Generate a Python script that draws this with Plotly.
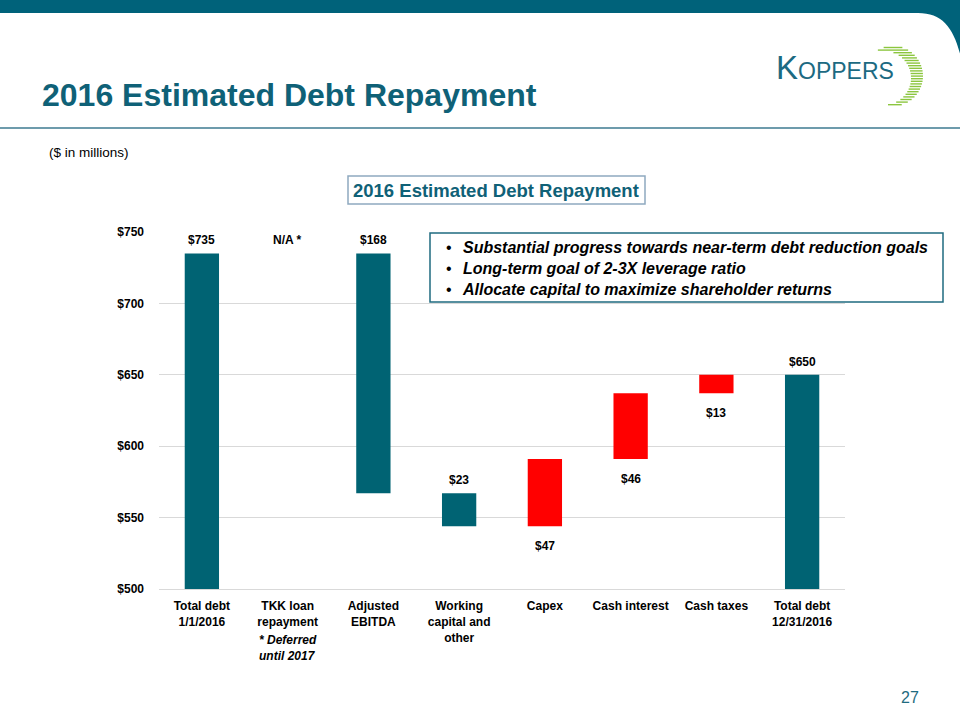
import numpy as np
import plotly.graph_objects as go

# ---------------- data ----------------
categories = ["Total debt<br>1/1/2016", "TKK loan<br>repayment", "Adjusted<br>EBITDA",
              "Working<br>capital and<br>other", "Capex", "Cash interest", "Cash taxes",
              "Total debt<br>12/31/2016"]
measures = ["absolute", "relative", "relative", "relative", "relative", "relative", "relative", "total"]
changes = [735, 0, -168, -23, 47, 46, 13, 650]
value_labels = ["$735", "N/A *", "$168", "$23", "$47", "$46", "$13", "$650"]
label_side = ["above", "above", "above", "above", "below", "below", "below", "above"]
y_ticks = [500, 550, 600, 650, 700, 750]
y_tick_labels = ["$500", "$550", "$600", "$650", "$700", "$750"]
bullets = ["Substantial progress towards near-term debt reduction goals",
           "Long-term goal of 2-3X leverage ratio",
           "Allocate capital to maximize shareholder returns"]

# ---------------- styles ----------------
TEAL = "#006373"
RED = "#FF0000"
TITLE_C = "#0F6177"
FONT = "Liberation Sans"
W, H = 960, 720
ML, MR, MT, MB = 159, 115, 232, 131
PW, PH = W - ML - MR, H - MT - MB


def X(px):
    return (px - ML) / PW


def Y(py):
    return (H - MB - py) / PH


fig = go.Figure()
fig.add_trace(go.Waterfall(
    x=categories, y=changes, measure=measures, width=0.4,
    decreasing=dict(marker=dict(color=TEAL)),
    increasing=dict(marker=dict(color=RED)),
    totals=dict(marker=dict(color=TEAL)),
    connector=dict(visible=False), textinfo="none", hoverinfo="skip",
))

# value labels positioned from the running totals
annotations = []
running = 0
for cat, m, v, lab, side in zip(categories, measures, changes, value_labels, label_side):
    if m == "absolute":
        start, end = 0, v
        running = v
    elif m == "relative":
        start, end = running, running + v
        running = end
    else:
        start, end = 0, running
    top, bot = max(start, end), min(start, end)
    if side == "above":
        annotations.append(dict(x=cat, y=top, xref="x", yref="y", text="<b>%s</b>" % lab,
                                showarrow=False, yanchor="middle", yshift=13,
                                font=dict(family=FONT, size=12, color="black")))
    else:
        annotations.append(dict(x=cat, y=bot, xref="x", yref="y", text="<b>%s</b>" % lab,
                                showarrow=False, yanchor="middle", yshift=-20,
                                font=dict(family=FONT, size=12, color="black")))

# footnote under TKK
annotations.append(dict(x=categories[1], y=Y(648), xref="x", yref="paper",
                        text="<b><i>* Deferred<br>until 2017</i></b>", showarrow=False,
                        align="left", xanchor="center", yanchor="middle",
                        font=dict(family=FONT, size=12, color="black")))

# slide title
annotations.append(dict(x=X(40), y=Y(95), xref="paper", yref="paper", xanchor="left",
                        yanchor="middle", text="<b>2016 Estimated Debt Repayment</b>",
                        showarrow=False, font=dict(family=FONT, size=32, color=TITLE_C)))
# units
annotations.append(dict(x=X(47), y=Y(153), xref="paper", yref="paper", xanchor="left",
                        yanchor="middle", text="($ in millions)", showarrow=False,
                        font=dict(family=FONT, size=13.5, color="black")))
# chart title box text
annotations.append(dict(x=X(496), y=Y(190), xref="paper", yref="paper", xanchor="center",
                        yanchor="middle", text="<b>2016 Estimated Debt Repayment</b>",
                        showarrow=False, font=dict(family=FONT, size=18.5, color=TITLE_C)))
# bullet box
annotations.append(dict(x=X(444), y=Y(268), xref="paper", yref="paper", xanchor="left",
                        yanchor="middle", text="<br>".join(["•"] * len(bullets)),
                        showarrow=False, align="left",
                        font=dict(family=FONT, size=16, color="black")))
annotations.append(dict(x=X(460), y=Y(268), xref="paper", yref="paper", xanchor="left",
                        yanchor="middle",
                        text="<br>".join("<b><i>%s</i></b>" % b for b in bullets),
                        showarrow=False, align="left",
                        font=dict(family=FONT, size=16, color="black")))
# page number
annotations.append(dict(x=X(910), y=Y(697), xref="paper", yref="paper", xanchor="center",
                        yanchor="middle", text="27", showarrow=False,
                        font=dict(family=FONT, size=16, color="#1F6B80")))
# logo text
annotations.append(dict(x=X(774), y=Y(88), xref="paper", yref="paper", xanchor="left",
                        yanchor="bottom",
                        text="<span style='font-size:33px'>K</span>OPPERS",
                        showarrow=False, font=dict(family=FONT, size=23, color="#1C6A82")))

shapes = []
# top band with rounded corner
x0, x1 = X(-5), X(965)
shapes.append(dict(type="path", xref="paper", yref="paper", line=dict(width=0),
                   fillcolor="#00627A",
                   path="M %f,%f L %f,%f L %f,%f C %f,%f %f,%f %f,%f L %f,%f Z" % (
                       x0, Y(-5), x1, Y(-5), x1, Y(78), X(958), Y(35), X(948), Y(13),
                       X(918), Y(13), x0, Y(13))))
# separator line
shapes.append(dict(type="line", xref="paper", yref="paper", x0=X(0), x1=X(960),
                   y0=Y(128), y1=Y(128), line=dict(color="#3D7A90", width=1.5)))
# chart title box
shapes.append(dict(type="rect", xref="paper", yref="paper", x0=X(348), x1=X(645),
                   y0=Y(176), y1=Y(204), line=dict(color="#8FA9C0", width=1.5),
                   fillcolor="rgba(0,0,0,0)"))
# bullet box
shapes.append(dict(type="rect", xref="paper", yref="paper", x0=X(430), x1=X(943),
                   y0=Y(233), y1=Y(302), line=dict(color="#1F6B80", width=1.5),
                   fillcolor="white", layer="above"))
# logo crescent stripes
cx1, cy1, r1 = 893, 76, 30
cx2, cy2, r2 = 884, 78, 27
for py in np.arange(47.5, 105, 2.6):
    dy1 = py - cy1
    if abs(dy1) >= r1:
        continue
    w1 = np.sqrt(r1 ** 2 - dy1 ** 2)
    left, right = cx1 - w1, cx1 + w1
    dy2 = py - cy2
    if abs(dy2) < r2:
        w2 = np.sqrt(r2 ** 2 - dy2 ** 2)
        left = max(left, cx2 + w2)
    if right - left < 0.5:
        continue
    shapes.append(dict(type="line", xref="paper", yref="paper", x0=X(left), x1=X(right),
                       y0=Y(py), y1=Y(py), line=dict(color="#8CC63F", width=1.4)))

fig.update_layout(
    width=W, height=H, autosize=False,
    margin=dict(l=ML, r=MR, t=MT, b=MB),
    paper_bgcolor="white", plot_bgcolor="white",
    showlegend=False,
    font=dict(family=FONT, color="black"),
    annotations=annotations, shapes=shapes,
    xaxis=dict(showgrid=False, showline=True, linecolor="#D9D9D9", linewidth=1,
               ticks="", ticklabelstandoff=6, fixedrange=True,
               tickfont=dict(family=FONT, size=12, color="black", weight="bold")),
    yaxis=dict(range=[500, 750], tickmode="array", tickvals=y_ticks, ticktext=y_tick_labels,
               showgrid=True, gridcolor="#D9D9D9", zeroline=False, showline=False, ticks="",
               ticklabelstandoff=14, fixedrange=True,
               tickfont=dict(family=FONT, size=12, color="black", weight="bold")),
)

fig.write_html("out.html", config={"displayModeBar": False},
               post_script="document.body.style.margin='0';")
